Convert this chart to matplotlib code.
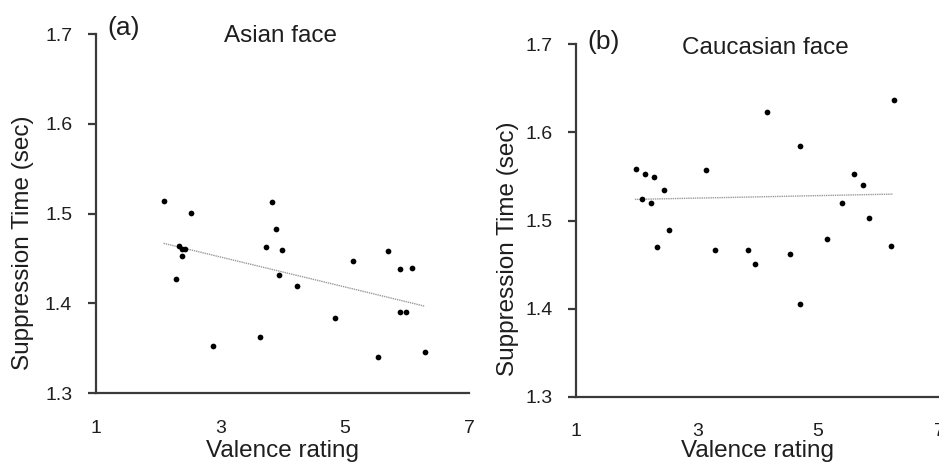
import numpy as np
import matplotlib
matplotlib.use('Agg')
import matplotlib.pyplot as plt

plt.rcParams['font.family'] = ['Liberation Sans', 'DejaVu Sans']

# Data
asian_valence = [2.09, 2.53, 2.34, 2.39, 2.44, 2.39, 2.29, 2.89, 3.64, 3.74, 3.84, 3.89,
                 3.99, 3.94, 4.24, 4.84, 5.14, 5.53, 5.69, 5.89, 6.09, 5.89, 5.98, 6.29]
asian_time = [1.514, 1.501, 1.464, 1.461, 1.461, 1.453, 1.427, 1.353, 1.363, 1.463, 1.513, 1.483,
              1.459, 1.432, 1.420, 1.384, 1.447, 1.340, 1.458, 1.438, 1.439, 1.391, 1.391, 1.346]

cauc_valence = [1.99, 2.14, 2.29, 2.45, 2.09, 2.24, 2.54, 2.34, 3.14, 3.30, 3.84, 3.95,
                4.15, 4.54, 4.70, 4.70, 5.15, 5.40, 5.60, 5.75, 5.85, 6.20, 6.25]
cauc_time = [1.558, 1.553, 1.549, 1.535, 1.524, 1.520, 1.489, 1.470, 1.557, 1.466, 1.467, 1.451,
             1.623, 1.462, 1.585, 1.405, 1.479, 1.520, 1.553, 1.540, 1.503, 1.471, 1.637]

# trend lines (end points as drawn in the figure)
asian_trend_x = [2.09, 6.29]
asian_trend_y = [1.467, 1.397]
cauc_trend_x = [1.97, 6.24]
cauc_trend_y = [1.524, 1.530]

x_ticks = [1, 3, 5, 7]
y_ticks = [1.3, 1.4, 1.5, 1.6, 1.7]

fig = plt.figure(figsize=(9.39, 4.69), dpi=100)
ax1 = fig.add_axes([0.102, 0.1614, 0.3975, 0.766])
ax2 = fig.add_axes([0.6137, 0.1541, 0.3863, 0.7514])

panels = [
    (ax1, asian_valence, asian_time, asian_trend_x, asian_trend_y, '(a)', 'Asian face',
     (0.030, 1.017), (0.494, 0.9945), (-0.165, 0.418), (0.499, -0.130)),
    (ax2, cauc_valence, cauc_time, cauc_trend_x, cauc_trend_y, '(b)', 'Caucasian face',
     (0.032, 1.007), (0.522, 0.990), (-0.158, 0.419), (0.501, -0.123)),
]

for ax, xs, ys, tx, ty, tag, title, tag_pos, title_pos, ylab_pos, xlab_pos in panels:
    ax.scatter(xs, ys, s=17, color='black', zorder=3, linewidths=0)
    ax.plot(tx, ty, color='#9a9a9a', lw=1.0, linestyle=(0, (1, 0.6)))

    ax.set_xlim(1, 7)
    ax.set_ylim(1.3, 1.7)
    ax.set_xticks(x_ticks)
    ax.set_yticks(y_ticks)
    ax.set_yticklabels(['%.1f' % v for v in y_ticks])

    for side in ['top', 'right']:
        ax.spines[side].set_visible(False)
    for side in ['left', 'bottom']:
        ax.spines[side].set_color('#3a3a3a')
        ax.spines[side].set_linewidth(1.6)

    ax.tick_params(axis='y', length=6, width=1.6, color='#3a3a3a', pad=11,
                   labelsize=14, labelcolor='#1e1e1e')
    ax.tick_params(axis='x', length=0, pad=19, labelsize=14, labelcolor='#1e1e1e')

    ax.set_ylabel('Suppression Time (sec)', fontsize=17.5, color='#1e1e1e')
    ax.yaxis.set_label_coords(*ylab_pos)
    ax.set_xlabel('Valence rating', fontsize=17.5, color='#1e1e1e')
    ax.xaxis.set_label_coords(*xlab_pos)

    ax.text(tag_pos[0], tag_pos[1], tag, transform=ax.transAxes, fontsize=19,
            ha='left', va='center', color='#1e1e1e')
    ax.text(title_pos[0], title_pos[1], title, transform=ax.transAxes, fontsize=17.5,
            ha='center', va='center', color='#1e1e1e')

fig.savefig('out.png', dpi=100)
